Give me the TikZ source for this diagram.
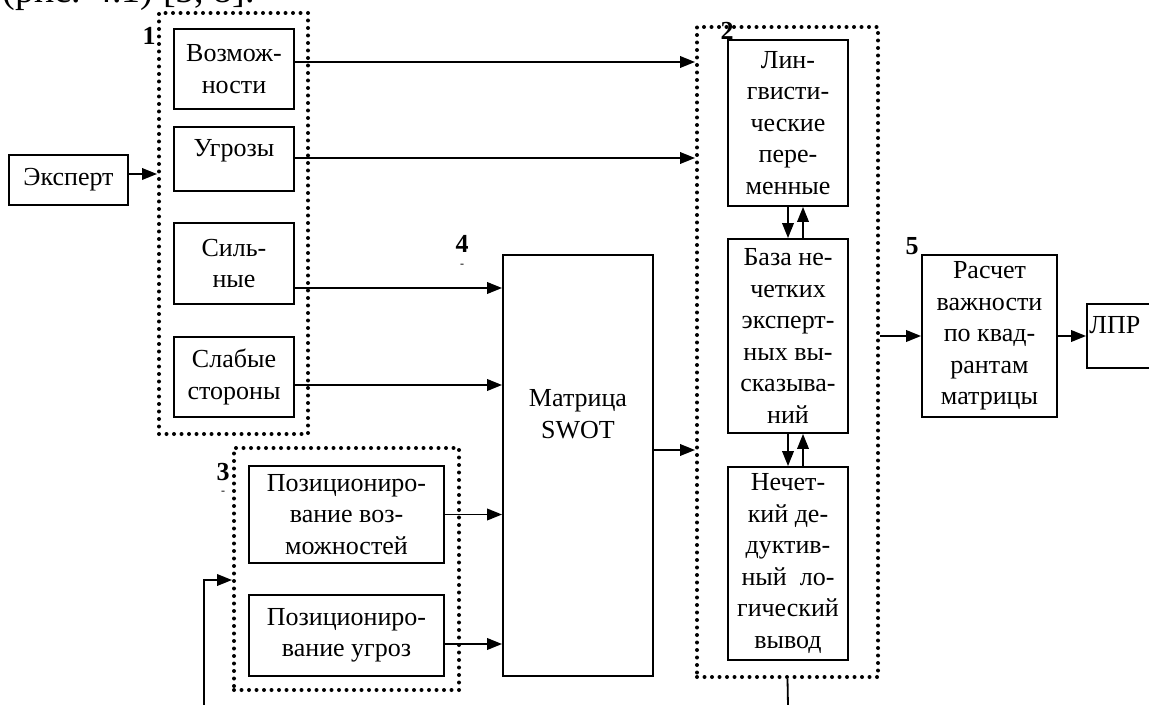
\documentclass[tikz,border=0pt]{standalone}
\usepackage{fontspec}
\setmainfont{Liberation Serif}
\usetikzlibrary{arrows.meta,fit}
\begin{document}
\begin{tikzpicture}[x=0.5pt,y=-0.5pt,
  box/.style={draw, line width=0.95pt, align=center, inner sep=0pt},
  txt/.style={align=center, inner sep=0pt, font=\fontsize{13}{15.75}\selectfont},
  grp/.style={draw, line width=2pt, dash pattern=on 0pt off 3.75pt, line cap=round, inner sep=0pt},
  arr/.style={line width=0.9pt, -{Triangle[length=7.5pt,width=5.8pt]}},
  ln/.style={line width=0.9pt},
  lab/.style={font=\fontsize{13}{14}\selectfont\bfseries, inner sep=0pt},
  tick/.style={font=\fontsize{6}{7}\selectfont, inner sep=0pt}
]
\useasboundingbox (0,0) rectangle (1149,705);

% cut-off caption line at the top
\node[anchor=base west, inner sep=0pt, font=\fontsize{19}{22}\selectfont] (cap) at (2,2.5) {(рис. 4.1) [5, 8].};

% groups (dotted frames)
\node[grp, fit={(159,13) (308,434)}] (g1) {};
\node[grp, fit={(697,27) (878,677)}] (g2) {};
\node[grp, fit={(234,448) (459,690)}] (g3) {};

% group labels
\node[lab] (l1) at (149,36) {1};
\node[lab] (l2) at (727,31) {2};
\node[lab] (l3) at (223,472) {3};
\node[tick] (t3) at (223,493) {-};
\node[lab] (l4) at (462,244) {4};
\node[tick] (t4) at (462,266) {-};
\node[lab] (l5) at (912,246) {5};

% boxes
\node[box, fit={(9,155) (128,205)}] (exp) {};
\node[txt] at (exp.center) {Эксперт};

\node[box, fit={(174,29) (294,109)}] (voz) {};
\node[txt] at (voz.center) {Возмож-\\ности};
\node[box, fit={(174,127) (294,191)}] (ugr) {};
\node[txt] at (234,151) {Угрозы};
\node[box, fit={(174,223) (294,304)}] (sil) {};
\node[txt] at (sil.center) {Силь-\\ные};
\node[box, fit={(174,337) (294,417)}] (sla) {};
\node[txt] at (sla.center) {Слабые\\стороны};

\node[box, fit={(503,255) (653,676)}] (swot) {};
\node[txt] at (578,414) {Матрица\\SWOT};

\node[box, fit={(249,466) (444,563)}] (poz1) {};
\node[txt] at (poz1.center) {Позициониро-\\вание воз-\\можностей};
\node[box, fit={(249,595) (444,676)}] (poz2) {};
\node[txt] at (poz2.center) {Позициониро-\\вание угроз};

\node[box, fit={(728,40) (848,206)}] (lin) {};
\node[txt] at (lin.center) {Лин-\\гвисти-\\ческие\\пере-\\менные};
\node[box, fit={(728,239) (848,433)}] (baz) {};
\node[txt] at (baz.center) {База не-\\четких\\эксперт-\\ных вы-\\сказыва-\\ний};
\node[box, fit={(728,467) (848,660)}] (nec) {};
\node[txt] at (nec.center) {Нечет-\\кий де-\\дуктив-\\ный~~ло-\\гический\\вывод};

\node[box, fit={(922,255) (1057,417)}] (ras) {};
\node[txt] at (ras.center) {Расчет\\важности\\по квад-\\рантам\\матрицы};

\node[box, fit={(1087,304) (1180,368)}] (lpr) {};
\node[txt, anchor=west] at (1089,325) {ЛПР};

% connectors
\draw[arr] ([yshift=3pt]exp.east) -- ([yshift=3pt]exp.east -| g1.west);
\draw[arr] ([yshift=3.5pt]voz.east) -- ([yshift=3.5pt]voz.east -| g2.west);
\draw[arr] ([yshift=0.5pt]ugr.east) -- ([yshift=0.5pt]ugr.east -| g2.west);
\draw[arr] ([yshift=-12.25pt]sil.east) -- ([yshift=-12.25pt]sil.east -| swot.west);
\draw[arr] ([yshift=-4pt]sla.east) -- ([yshift=-4pt]sla.east -| swot.west);
\draw[arr] (poz1.east) -- (poz1.east -| swot.west);
\draw[arr] ([yshift=-4.25pt]poz2.east) -- ([yshift=-4.25pt]poz2.east -| swot.west);
\draw[arr] ([yshift=7.75pt]swot.east) -- ([yshift=7.75pt]swot.east -| g2.west);
\draw[arr] (g2.east |- ras.west) -- (ras.west);
\draw[arr] (ras.east) -- (ras.east -| lpr.west);

\draw[arr] (lin.south) -- (baz.north);
\draw[arr] ([xshift=7.5pt]baz.north) -- ([xshift=7.5pt]lin.south);
\draw[arr] (baz.south) -- (nec.north);
\draw[arr] ([xshift=7.5pt]nec.north) -- ([xshift=7.5pt]baz.south);

\coordinate (g2out) at (788,706);
\draw[ln] (g2.south) -- (g2out);

\coordinate (fb) at (204,706);
\coordinate (fbturn) at (204,580);
\draw[arr] (fb) -- (fbturn) -- (fbturn -| g3.west);
\end{tikzpicture}
\end{document}
